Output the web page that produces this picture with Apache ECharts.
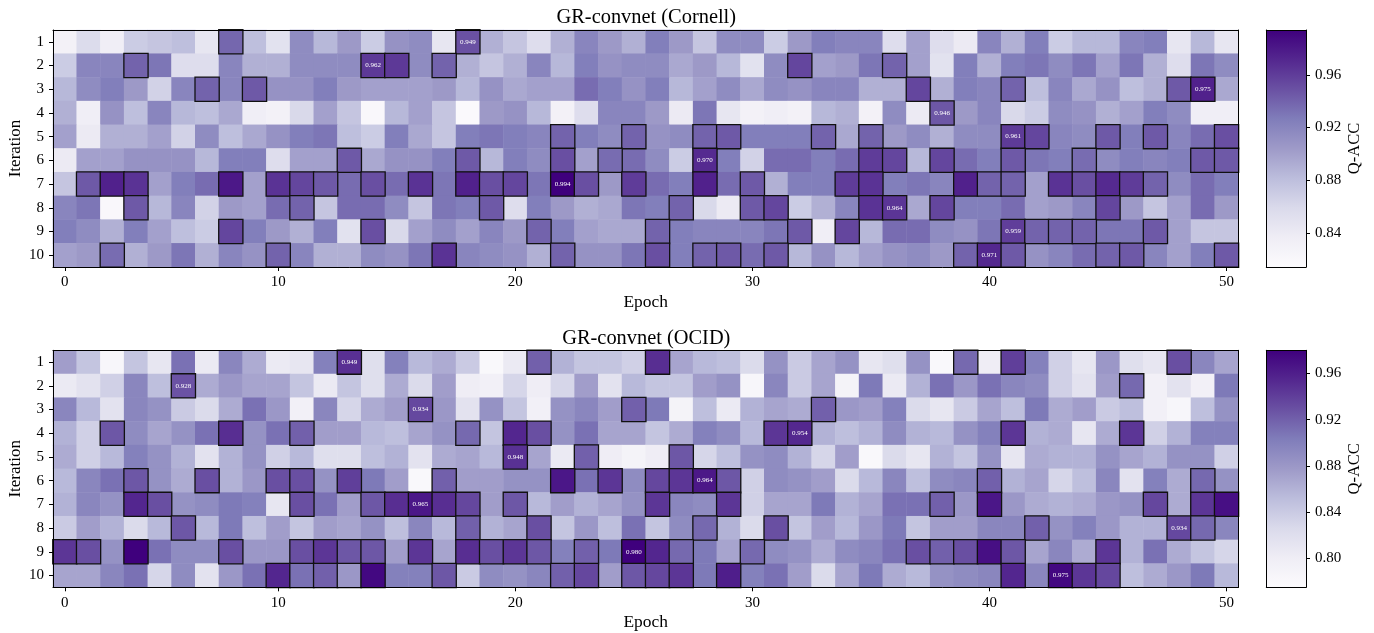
<!DOCTYPE html>
<html>
<head>
<meta charset="utf-8">
<style>html,body{margin:0;padding:0;background:#fff}#c{width:1374px;height:633px}</style>
<script src="https://cdn.jsdelivr.net/npm/echarts@6/dist/echarts.min.js"></script>
</head>
<body>
<div id="c"></div>
<script>
const iterations = ['1','2','3','4','5','6','7','8','9','10'];
const epochTickIndex = [0,9,19,29,39,49];
const epochTickLabel = ['0','10','20','30','40','50'];
const purples = ['#fcfbfd','#efedf5','#dadaeb','#bcbddc','#9e9ac8','#807dba','#6a51a3','#54278f','#3f007d'];

const cornellTitle = 'GR-convnet (Cornell)';
const cornellRange = [0.814, 0.994];
const cornellTicks = [0.84,0.88,0.92,0.96];
const cornellValues = [
[.830,.857,.835,.870,.875,.880,.845,.938,.880,.850,.915,.885,.905,.870,.910,.915,.845,.949,.890,.875,.855,.890,.920,.905,.890,.925,.905,.875,.915,.915,.870,.905,.925,.920,.920,.855,.900,.855,.840,.920,.890,.925,.870,.885,.885,.920,.925,.845,.885,.845],
[.870,.920,.920,.940,.930,.855,.855,.920,.890,.890,.915,.915,.915,.962,.962,.915,.940,.890,.875,.890,.920,.885,.925,.910,.915,.915,.895,.905,.885,.850,.915,.955,.900,.905,.930,.940,.900,.850,.925,.890,.925,.930,.915,.930,.900,.930,.890,.855,.930,.915],
[.885,.915,.925,.905,.865,.920,.940,.920,.945,.910,.910,.925,.905,.900,.900,.900,.905,.885,.910,.895,.900,.900,.935,.925,.910,.925,.885,.900,.915,.895,.915,.910,.920,.920,.890,.890,.955,.890,.925,.920,.940,.880,.920,.895,.910,.880,.890,.945,.975,.895],
[.890,.835,.910,.880,.920,.885,.880,.895,.835,.830,.860,.900,.875,.820,.885,.900,.875,.818,.905,.910,.885,.830,.855,.920,.920,.905,.840,.930,.845,.830,.835,.830,.885,.890,.830,.915,.840,.946,.905,.920,.860,.870,.915,.910,.890,.900,.925,.915,.835,.835],
[.900,.840,.890,.890,.900,.865,.915,.880,.895,.910,.925,.930,.880,.870,.925,.895,.875,.925,.930,.925,.920,.940,.925,.915,.940,.910,.915,.940,.945,.925,.925,.925,.940,.895,.940,.905,.915,.890,.915,.915,.961,.955,.920,.915,.945,.925,.945,.920,.935,.950],
[.840,.900,.900,.910,.910,.910,.885,.925,.925,.855,.900,.900,.945,.895,.910,.910,.925,.945,.885,.925,.915,.950,.900,.935,.935,.915,.870,.970,.925,.865,.935,.935,.925,.935,.960,.955,.885,.955,.935,.925,.945,.930,.925,.935,.915,.925,.920,.925,.945,.945],
[.875,.945,.975,.965,.900,.925,.935,.980,.900,.965,.955,.945,.935,.950,.935,.965,.930,.975,.950,.955,.930,.994,.950,.905,.960,.935,.925,.975,.935,.945,.890,.925,.925,.960,.965,.925,.930,.920,.975,.940,.940,.900,.965,.950,.970,.960,.940,.915,.935,.925],
[.920,.930,.820,.945,.885,.920,.865,.905,.900,.935,.940,.875,.935,.935,.915,.875,.930,.925,.945,.855,.925,.905,.890,.895,.930,.925,.940,.860,.840,.945,.955,.870,.890,.920,.965,.964,.895,.955,.925,.925,.935,.900,.905,.920,.955,.905,.875,.900,.935,.905],
[.925,.915,.890,.925,.900,.880,.870,.955,.925,.905,.890,.925,.850,.950,.860,.900,.915,.900,.920,.905,.940,.925,.900,.895,.895,.940,.925,.920,.920,.920,.930,.945,.835,.955,.885,.935,.935,.915,.910,.930,.959,.940,.940,.940,.930,.930,.945,.900,.875,.875],
[.900,.905,.935,.890,.905,.930,.890,.920,.910,.940,.920,.890,.890,.915,.910,.930,.965,.920,.915,.910,.890,.940,.910,.910,.930,.950,.925,.940,.945,.935,.945,.885,.910,.885,.900,.910,.915,.905,.940,.971,.945,.910,.920,.935,.940,.945,.920,.900,.925,.945]
];
const cornellBoxed = [
[7,17],
[3,13,14,16,31,35],
[6,8,36,40,47,48],
[37],
[21,24,27,28,32,34,40,41,44,46,49],
[12,17,21,23,27,34,35,37,40,43,48,49],
[1,2,3,7,9,10,11,13,15,17,18,19,21,22,24,27,29,33,34,38,39,40,42,43,44,45,46],
[3,10,18,26,29,30,34,35,37,44],
[7,13,20,25,31,33,40,41,42,43,46],
[2,9,16,21,25,27,28,30,38,39,40,44,45,49]
];
const cornellAnnotated = [17,13,48,37,40,27,21,35,40,39];

const ocidTitle = 'GR-convnet (OCID)';
const ocidRange = [0.775, 0.980];
const ocidTicks = [0.80,0.84,0.88,0.92,0.96];
const ocidValues = [
[.875,.845,.785,.845,.810,.910,.805,.895,.865,.805,.810,.900,.949,.820,.900,.855,.865,.840,.780,.805,.920,.860,.845,.845,.835,.950,.870,.855,.850,.825,.885,.840,.870,.885,.810,.820,.885,.780,.915,.800,.940,.900,.835,.810,.880,.820,.810,.930,.895,.870],
[.805,.815,.835,.895,.850,.928,.865,.880,.870,.870,.845,.805,.845,.820,.865,.825,.875,.800,.795,.830,.800,.830,.875,.815,.855,.845,.845,.875,.885,.785,.895,.840,.870,.790,.905,.805,.860,.910,.880,.910,.895,.890,.835,.815,.875,.915,.795,.815,.795,.905],
[.895,.855,.815,.895,.885,.840,.825,.865,.910,.880,.795,.895,.830,.865,.875,.934,.880,.815,.885,.845,.795,.885,.895,.875,.920,.905,.790,.850,.805,.860,.870,.865,.920,.880,.875,.900,.825,.810,.840,.870,.850,.905,.865,.875,.840,.850,.795,.785,.850,.885],
[.860,.835,.925,.890,.870,.885,.910,.950,.885,.910,.920,.875,.875,.855,.850,.870,.885,.915,.845,.955,.930,.885,.910,.870,.870,.845,.865,.900,.890,.855,.945,.954,.860,.850,.860,.890,.860,.855,.885,.900,.945,.860,.865,.810,.865,.945,.835,.860,.900,.900],
[.865,.835,.855,.900,.885,.860,.815,.860,.885,.835,.855,.820,.820,.850,.860,.815,.865,.870,.855,.948,.870,.805,.920,.800,.790,.800,.925,.830,.850,.885,.890,.860,.830,.875,.780,.825,.810,.860,.845,.885,.810,.865,.860,.860,.885,.870,.860,.885,.885,.835],
[.855,.895,.910,.925,.885,.865,.930,.860,.880,.930,.930,.885,.940,.905,.875,.780,.920,.875,.875,.885,.885,.965,.910,.945,.890,.935,.945,.964,.925,.835,.890,.885,.875,.825,.855,.895,.850,.890,.895,.920,.860,.870,.830,.850,.895,.815,.900,.865,.915,.885],
[.860,.895,.885,.955,.930,.885,.890,.905,.900,.810,.930,.910,.875,.925,.950,.965,.950,.935,.875,.925,.855,.875,.860,.870,.885,.945,.895,.890,.945,.835,.870,.870,.905,.860,.870,.910,.910,.920,.880,.965,.880,.865,.860,.865,.880,.885,.935,.865,.945,.970],
[.840,.875,.860,.825,.855,.925,.855,.905,.850,.875,.845,.875,.870,.885,.850,.895,.855,.920,.860,.870,.930,.845,.880,.850,.910,.845,.890,.915,.860,.825,.930,.845,.875,.855,.880,.905,.845,.875,.875,.895,.895,.920,.885,.900,.880,.860,.860,.934,.915,.895],
[.945,.930,.885,.980,.910,.890,.890,.930,.880,.880,.930,.945,.925,.925,.875,.945,.870,.950,.930,.945,.925,.900,.920,.905,.980,.955,.915,.905,.870,.915,.890,.885,.865,.890,.895,.910,.930,.920,.930,.970,.925,.870,.895,.865,.945,.860,.910,.865,.845,.830],
[.870,.870,.895,.910,.830,.890,.815,.880,.910,.955,.910,.920,.880,.975,.900,.900,.925,.840,.890,.885,.895,.920,.935,.875,.925,.935,.945,.905,.960,.900,.910,.875,.825,.870,.905,.865,.855,.885,.890,.895,.955,.895,.975,.945,.935,.850,.865,.880,.905,.855]
];
const ocidBoxed = [
[12,20,25,38,40,47],
[5,45],
[15,24,32],
[2,7,10,17,19,20,30,31,40,45],
[19,22,26],
[3,6,9,10,12,16,21,23,25,26,27,28,39,48],
[3,4,10,13,14,15,16,17,19,25,28,37,39,46,48,49],
[5,17,20,27,30,41,47,48],
[0,1,3,7,10,11,12,13,15,17,18,19,20,22,24,25,26,29,36,37,38,39,40,44],
[9,10,11,12,13,16,21,22,24,25,26,28,40,42,43,44]
];
const ocidAnnotated = [12,5,15,31,19,27,15,47,24,42];

const FONT = 'Liberation Serif';
const panels = [
  {title:cornellTitle, range:cornellRange, ticks:cornellTicks, values:cornellValues, boxed:cornellBoxed, notes:cornellAnnotated, top:30},
  {title:ocidTitle, range:ocidRange, ticks:ocidTicks, values:ocidValues, boxed:ocidBoxed, notes:ocidAnnotated, top:350.3}
];
const H = 237, L = 53, W = 1185.4, CL = 1266.3, CW = 39.7;
const opt = {animation:false, backgroundColor:'#fff', textStyle:{fontFamily:FONT},
  title:[], grid:[], xAxis:[], yAxis:[], series:[], visualMap:[]};
const line = {show:true, onZero:false, lineStyle:{color:'#000', width:1}};
const frameAxis = (grid, pos) => ({type:'value', gridIndex:grid, position:pos, min:0, max:1, z:10,
  axisLine:line, axisTick:{show:false}, axisLabel:{show:false}, splitLine:{show:false}});

panels.forEach((p, i) => {
  const g0 = opt.grid.length;
  opt.title.push({text:p.title, left:641.3, top:p.top-27, textAlign:'center',
    textStyle:{fontFamily:FONT, fontSize:20.4, fontWeight:'normal', color:'#000'}});
  opt.grid.push({left:L, top:p.top, width:W, height:H, outerBoundsMode:'none'});
  opt.grid.push({left:CL, top:p.top, width:CW, height:H, outerBoundsMode:'none'});
  const xStart = opt.xAxis.length, yStart = opt.yAxis.length;
  opt.xAxis.push({type:'category', gridIndex:g0, data:p.values[0].map((_, k) => k), position:'bottom', z:10,
    name:'Epoch', nameLocation:'middle', nameGap:27, nameTextStyle:{fontFamily:FONT, fontSize:17.4, color:'#000'},
    axisLine:line,
    axisTick:{show:true, alignWithLabel:true, length:4, interval:(k)=>epochTickIndex.includes(k), lineStyle:{color:'#000'}},
    axisLabel:{show:true, interval:(k)=>epochTickIndex.includes(k), formatter:(v,k)=>epochTickLabel[epochTickIndex.indexOf(k)], fontFamily:FONT, fontSize:15, color:'#000', margin:8},
    splitLine:{show:false}, splitArea:{show:false}});
  opt.yAxis.push({type:'category', gridIndex:g0, data:iterations, inverse:true, position:'left', z:10,
    name:'Iteration', nameLocation:'middle', nameGap:29, nameMoveOverlap:false, nameTextStyle:{fontFamily:FONT, fontSize:17, color:'#000'},
    axisLine:line,
    axisTick:{show:true, alignWithLabel:true, length:4, lineStyle:{color:'#000'}},
    axisLabel:{interval:0, fontFamily:FONT, fontSize:15, color:'#000', margin:9},
    splitLine:{show:false}, splitArea:{show:false}});
  opt.xAxis.push(frameAxis(g0,'top'));
  opt.yAxis.push(frameAxis(g0,'right'));
  opt.xAxis.push({type:'category', gridIndex:g0+1, data:['Q-ACC'], position:'bottom', z:10,
    axisLine:line, axisTick:{show:false}, axisLabel:{show:false}, splitLine:{show:false}});
  opt.yAxis.push({type:'value', gridIndex:g0+1, position:'right', min:p.range[0], max:p.range[1], z:10,
    name:'Q-ACC', nameLocation:'middle', nameGap:40, nameRotate:90, nameMoveOverlap:false, nameTextStyle:{fontFamily:FONT, fontSize:16.5, color:'#000'},
    axisLine:line, splitLine:{show:false},
    axisTick:{show:true, length:4, customValues:p.ticks, lineStyle:{color:'#000'}},
    axisLabel:{show:true, customValues:p.ticks, formatter:(v)=>v.toFixed(2), fontFamily:FONT, fontSize:15, color:'#000', margin:9}});
  opt.xAxis.push(frameAxis(g0+1,'top'));
  opt.yAxis.push(frameAxis(g0+1,'left'));

  const base = [], top = [];
  p.values.forEach((row, r) => row.forEach((v, c) => {
    base.push([c, r, v]);
    if (p.boxed[r].includes(c)) {
      const item = {value:[c, r, v]};
      item.label = {show:p.notes[r] === c, formatter:v.toFixed(3), color:'#fff', fontFamily:FONT, fontSize:7};
      top.push(item);
    }
  }));
  const sIdx = opt.series.length;
  opt.series.push({type:'heatmap', xAxisIndex:xStart, yAxisIndex:yStart, data:base, silent:true,
    itemStyle:{borderWidth:0}, progressive:0});
  opt.series.push({type:'heatmap', xAxisIndex:xStart, yAxisIndex:yStart, data:top, silent:true, z:3,
    itemStyle:{borderColor:'#111', borderWidth:1.3}, progressive:0});
  opt.series.push({type:'bar', xAxisIndex:xStart+2, yAxisIndex:yStart+2, data:[p.range[1]], barWidth:'100%', silent:true,
    itemStyle:{color:new echarts.graphic.LinearGradient(0,1,0,0, purples.map((c,k)=>({offset:k/(purples.length-1), color:c})))}});
  opt.visualMap.push({type:'continuous', show:false, min:p.range[0], max:p.range[1], seriesIndex:[sIdx, sIdx+1], dimension:2,
    inRange:{color:purples}});
});
const chart = echarts.init(document.getElementById('c'), null, {renderer:'canvas', width:1374, height:633});
chart.setOption(opt);
</script>
</body>
</html>
